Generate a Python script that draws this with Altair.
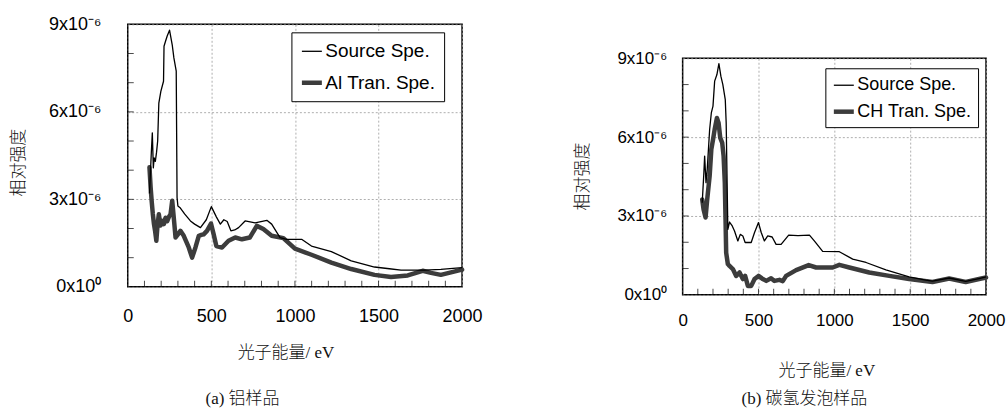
import altair as alt
import pandas as pd

# ---------------- data (y in units of 1e-6) ----------------
# Panel (a): aluminium sample
src_a_x = [130, 141, 147, 153, 158, 165, 172, 179, 186, 198, 214, 217, 226, 236, 250, 266, 276, 290, 295,
           300, 315, 340, 375, 400, 435, 470, 500, 530, 554, 575, 595, 617, 640, 663, 702, 762, 832, 861,
           911, 950, 1040, 1099, 1218, 1337, 1476, 1565, 1635, 1774, 1873, 2000]
src_a_y = [3.2, 4.6, 5.28, 4.08, 4.42, 4.3, 4.6, 5.0, 6.3, 6.7, 7.05, 8.25, 8.42, 8.6, 8.8, 8.3, 7.85, 7.4, 3.06,
           2.77, 2.7, 2.5, 2.26, 2.15, 2.03, 2.3, 2.75, 2.4, 2.15, 2.3, 2.24, 1.92, 1.95, 2.03, 2.26, 2.19, 2.28, 2.15,
           1.69, 1.63, 1.63, 1.40, 1.21, 0.89, 0.68, 0.62, 0.57, 0.57, 0.60, 0.66]

al_x = [130, 137, 143, 150, 157, 164, 171, 178, 186, 196, 206, 216, 226, 236, 246, 256, 266, 276, 286, 300,
        315, 335, 350, 365, 385, 405, 425, 440, 454, 474, 498, 514, 530, 564, 603, 643, 683, 730, 772, 811,
        861, 931, 1000, 1099, 1218, 1337, 1476, 1575, 1675, 1764, 1814, 1873, 1952, 2000]
al_y = [4.1, 3.4, 2.95, 2.5, 2.15, 1.9, 1.58, 2.1, 2.49, 2.1, 2.26, 2.15, 2.37, 2.25, 2.4, 2.49, 2.95, 2.33, 1.69, 1.8,
        1.92, 1.75, 1.55, 1.35, 1.0, 1.35, 1.75, 1.78, 1.80, 1.92, 2.17, 1.80, 1.40, 1.35, 1.58, 1.69, 1.63, 1.69, 2.09, 1.98,
        1.75, 1.67, 1.31, 1.10, 0.83, 0.61, 0.41, 0.34, 0.39, 0.55, 0.48, 0.41, 0.52, 0.59]

# Panel (b): CH foam sample
src_b_x = [129, 140, 145, 154, 162, 178, 189, 200, 211, 226, 239, 252, 265, 281, 287, 298, 309, 327, 342, 364,
           380, 397, 412, 452, 474, 500, 518, 539, 561, 590, 616, 649, 699, 760, 836, 868, 923, 1033, 1121, 1209,
           1340, 1493, 1603, 1647, 1757, 1866, 1954, 2000]
src_b_y = [3.5, 4.65, 5.28, 4.27, 4.77, 6.29, 6.92, 7.18, 8.13, 8.38, 8.8, 8.32, 8.0, 7.43, 6.54, 2.49, 2.77, 2.62, 2.43, 2.05,
           2.30, 2.24, 1.99, 1.99, 2.37, 2.75, 2.37, 2.05, 2.24, 2.2, 1.92, 1.92, 2.27, 2.25, 2.27, 2.05, 1.65, 1.64, 1.36, 1.23,
           0.95, 0.68, 0.56, 0.52, 0.64, 0.51, 0.62, 0.68]

ch_x = [129, 138, 151, 162, 178, 189, 200, 211, 226, 237, 248, 261, 270, 278, 287, 298, 309, 331, 353, 375,
        397, 412, 430, 452, 474, 500, 529, 551, 583, 605, 638, 660, 682, 748, 831, 880, 989, 1033, 1099, 1230,
        1362, 1493, 1647, 1757, 1866, 1954, 2000]
ch_y = [3.63, 3.25, 2.94, 3.63, 4.52, 5.53, 5.9, 6.29, 6.73, 6.54, 5.97, 5.78, 5.28, 4.27, 1.6, 1.17, 1.10, 0.98, 0.72, 0.85,
        0.60, 0.72, 0.34, 0.34, 0.60, 0.72, 0.6, 0.53, 0.63, 0.53, 0.57, 0.52, 0.72, 0.94, 1.13, 1.04, 1.04, 1.14, 1.04, 0.85,
        0.72, 0.60, 0.49, 0.62, 0.49, 0.60, 0.66]

x_major = [0, 500, 1000, 1500, 2000]
y_major = [0, 3, 6, 9]
x_minor = [100, 200, 300, 400, 500, 600, 700, 800, 900, 1000, 1100, 1200, 1300, 1400, 1500, 1600, 1700, 1800, 1900]
y_minor = [1, 2, 3, 4, 5, 6, 7, 8]

LATIN = "Liberation Sans"
CJK = "Liberation Serif, Noto Sans CJK SC"


def panel(sx, sy, tx, ty, tname, W, H, lab_fs, leg_fs, leg_row, leg_pad, leg_x, leg_y,
          ylab_pad, xlab_pad, xt_x, xt_y, yt_x, yt_y, cap, cap_x, cap_y, anchor=None):
    names = ["Source Spe.", tname]
    src = pd.DataFrame({"x": sx, "y": sy, "s": names[0], "i": range(len(sx))})
    trn = pd.DataFrame({"x": tx, "y": ty, "s": names[1], "i": range(len(tx))})
    xs = alt.Scale(domain=[0, 2000], nice=False)
    ys = alt.Scale(domain=[0, 9], nice=False)
    cscale = alt.Scale(domain=names, range=["#000000", "#3c3c3c"])
    color = alt.Color("s:N", scale=cscale,
                      legend=alt.Legend(title=None, orient="none", legendX=leg_x, legendY=leg_y,
                                        strokeColor="black", fillColor="white", padding=leg_pad,
                                        labelFont=LATIN, labelFontSize=leg_fs, labelColor="black",
                                        labelOffset=1, symbolType="stroke", symbolSize=400,
                                        rowPadding=leg_row, labelLimit=300))
    width = alt.StrokeWidth("s:N", scale=alt.Scale(domain=names, range=[1.3, 4.5]), legend=None)
    xax = alt.Axis(values=x_major, format="d", grid=True, gridDash=[2, 2], gridColor="#9a9a9a", gridWidth=0.8,
                   tickSize=0, domain=False, labelFont=LATIN, labelFontSize=lab_fs, labelColor="black",
                   labelPadding=xlab_pad, labelFlush=False, title="光子能量/ eV", titleFont=CJK,
                   titleFontSize=17, titleFontWeight=300, titleColor="#111",
                   titleX=xt_x, titleY=xt_y, titleAlign="center", titleBaseline="middle")
    yax = alt.Axis(values=y_major, grid=True, gridDash=[2, 2], gridColor="#9a9a9a", gridWidth=0.8,
                   tickSize=0, domain=False, labelFont=LATIN, labelFontSize=lab_fs, labelColor="black",
                   labelPadding=ylab_pad, labelFlush=False,
                   labelExpr="datum.value == 0 ? '0x10\u2070' : datum.value + 'x10\u207b\u2076'",
                   title="相对强度", titleFont=CJK, titleFontSize=17, titleFontWeight=300,
                   titleColor="#111", titleX=yt_x, titleY=yt_y, titleAlign="center",
                   titleBaseline="middle", titleAngle=270)
    thick = alt.Chart(trn).mark_line(strokeJoin="round", strokeCap="round").encode(
        x=alt.X("x:Q", scale=xs, axis=xax), y=alt.Y("y:Q", scale=ys, axis=yax),
        color=color, strokeWidth=width, order="i:Q")
    thin = alt.Chart(src).mark_line(strokeJoin="round").encode(
        x=alt.X("x:Q", scale=xs), y=alt.Y("y:Q", scale=ys),
        color=alt.Color("s:N", scale=cscale), strokeWidth=width, order="i:Q")
    xt = alt.Chart(pd.DataFrame({"v": x_minor})).mark_tick(color="black", size=6, thickness=1).encode(
        x=alt.X("v:Q", scale=xs), y=alt.value(H - 3))
    yt = alt.Chart(pd.DataFrame({"v": y_minor})).mark_tick(color="black", size=6, thickness=1).encode(
        y=alt.Y("v:Q", scale=ys), x=alt.value(3))
    captxt = alt.Chart(pd.DataFrame({"c": [cap]})).mark_text(
        font=CJK, fontSize=17, fontWeight=300, color="#111", align="center", baseline="middle").encode(
        text="c:N", x=alt.value(cap_x), y=alt.value(cap_y))
    layers = [thick, thin, xt, yt, captxt]
    if anchor is not None:
        # invisible corner marker so that the page's origin sits at the figure's top-left corner
        layers.append(alt.Chart(pd.DataFrame({"a": [0]})).mark_square(
            size=1, opacity=0, strokeWidth=0, filled=True).encode(
            x=alt.value(anchor[0]), y=alt.value(anchor[1])))
    return alt.layer(*layers).properties(width=W, height=H).resolve_scale(
        color="shared", strokeWidth="shared")


left = panel(src_a_x, src_a_y, al_x, al_y, "Al Tran. Spe.", 335, 263, 18, 19, 9, 8, 164, 8,
             27, 21, 158, 66, -109, 138, "(a) 铝样品", 115, 375, anchor=(-126.5, -22.5))
right = panel(src_b_x, src_b_y, ch_x, ch_y, "CH Tran. Spe.", 304, 237, 17, 18, 5, 6, 143, 44,
              16, 18, 144, 76, -100, 118, "(b)  碳氢发泡样品", 122, 341)

spacer = alt.Chart(pd.DataFrame({"a": [0]})).mark_point(opacity=0).encode(
    x=alt.X("a:Q", axis=None), y=alt.Y("a:Q", axis=None)).properties(
    width=304, height=34, view=alt.ViewBackground(strokeOpacity=0, stroke="transparent"))

right_col = alt.vconcat(spacer, right, spacing=0, bounds="flush")

chart = alt.hconcat(left, right_col, spacing=221, bounds="flush").resolve_scale(
    color="independent", strokeWidth="independent", x="independent", y="independent"
).resolve_legend(color="independent", strokeWidth="independent").properties(
    padding=0,
    background="white",
).configure_view(stroke="black", strokeWidth=1.5)

chart.save("out.html", embed_options={"renderer": "svg", "actions": False})
